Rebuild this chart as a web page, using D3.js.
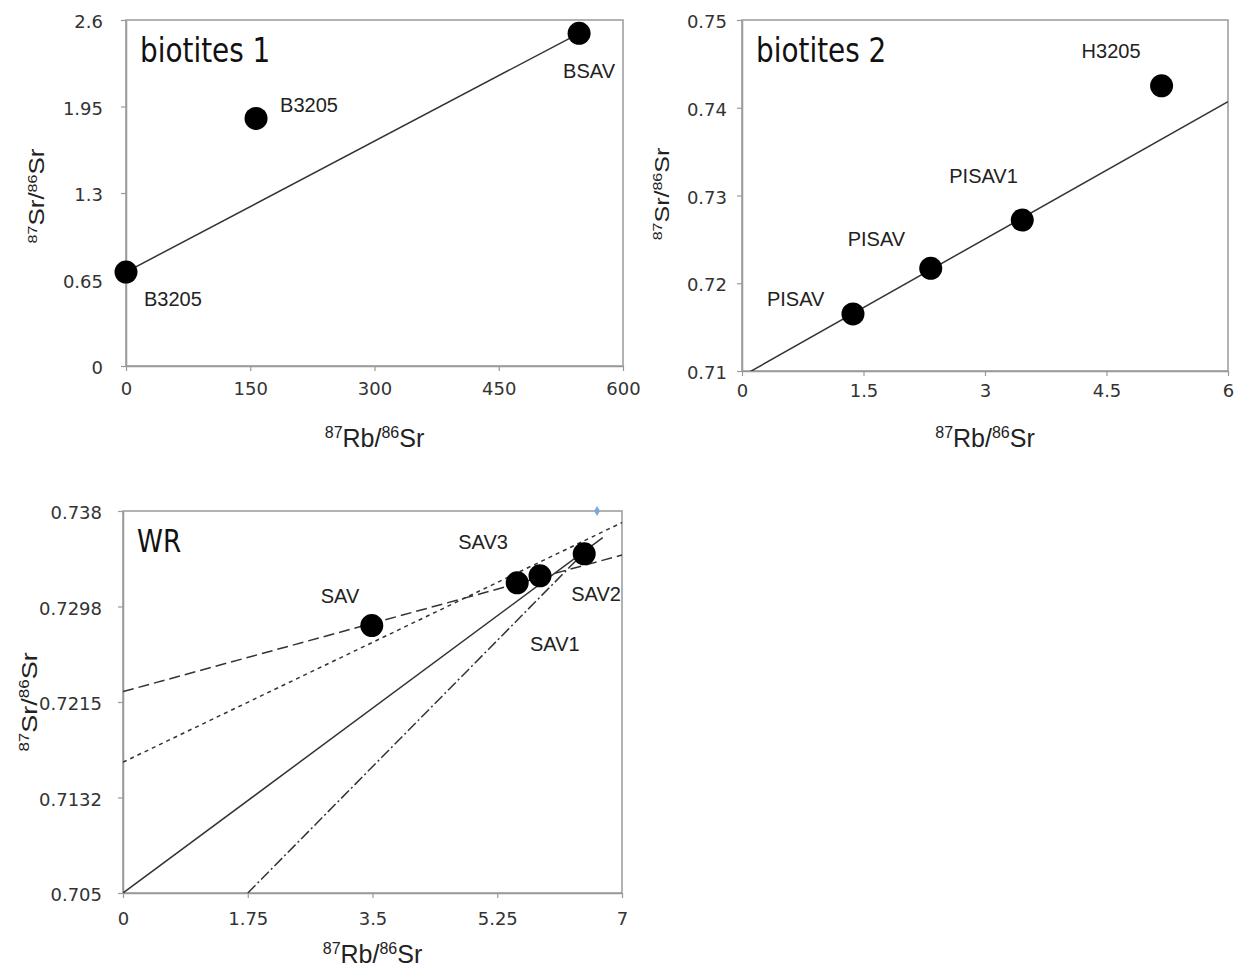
<!DOCTYPE html>
<html>
<head>
<meta charset="utf-8">
<script src="https://cdn.jsdelivr.net/npm/d3@7"></script>
<style>
  body { margin: 0; background: #fff; }
</style>
</head>
<body>
<div id="chart"></div>
<script>
// biotites 1
var bio1X = [0, 157, 547];
var bio1Y = [0.706, 1.86, 2.50];
var bio1Names = ["B3205", "B3205", "BSAV"];
var bio1XTicks = [0, 150, 300, 450, 600];
var bio1YTicks = [0, 0.65, 1.3, 1.95, 2.6];
var bio1Fit = [[0, 0.706], [547, 2.50]];

// biotites 2
var bio2X = [1.37, 2.33, 3.46, 5.18];
var bio2Y = [0.7165, 0.7217, 0.7272, 0.7425];
var bio2Names = ["PISAV", "PISAV", "PISAV1", "H3205"];
var bio2XTicks = [0, 1.5, 3, 4.5, 6];
var bio2YTicks = [0.71, 0.72, 0.73, 0.74, 0.75];
var bio2Fit = [[0, 0.7094], [6, 0.7407]];

// whole rock
var wrX = [3.49, 5.53, 5.85, 6.47];
var wrY = [0.7281, 0.7318, 0.7324, 0.7343];
var wrNames = ["SAV", "SAV3", "SAV1", "SAV2"];
var wrXTicks = [0, 1.75, 3.5, 5.25, 7];
var wrYTicks = [0.705, 0.71325, 0.7215, 0.72975, 0.738];
var wrYTickLabels = ["0.705", "0.7132", "0.7215", "0.7298", "0.738"];
var wrSolid = [[0, 0.705], [6.73, 0.7357]];
var wrDashDot = [[1.75, 0.705], [6.45, 0.7343]];
var wrShortDash = [[0, 0.7163], [7, 0.737]];
var wrLongDash = [[0, 0.7224], [7, 0.7342]];
var wrExtra = [[6.65, 0.738]];

var svg = d3.select("#chart").append("svg")
  .attr("width", 1239)
  .attr("height", 969);

var panels = [
  {
    id: "p1", title: "biotites 1", left: 126, top: 20, width: 497, height: 346,
    xDomain: [0, 600], yDomain: [0, 2.6], xTicks: bio1XTicks, yTicks: bio1YTicks,
    yTickLabels: bio1YTicks.map(String), xs: bio1X, ys: bio1Y, names: bio1Names,
    labelOffsets: [[18, 34], [24, -6], [-16, 45]],
    lines: [{ pts: bio1Fit, dash: null }],
    xPad: 11, yPad: 18, xTitleY: 447, yTitleX: 44, yTitleY: 196, titleY: 62, titleSize: 34, yTitleSize: 26
  },
  {
    id: "p2", title: "biotites 2", left: 742, top: 20, width: 486, height: 351,
    xDomain: [0, 6], yDomain: [0.71, 0.75], xTicks: bio2XTicks, yTicks: bio2YTicks,
    yTickLabels: bio2YTicks.map(String), xs: bio2X, ys: bio2Y, names: bio2Names,
    labelOffsets: [[-86, -8], [-83, -22], [-73, -37], [-80, -28]],
    lines: [{ pts: bio2Fit, dash: null }],
    xPad: 8, yPad: 10, xTitleY: 447, yTitleX: 669, yTitleY: 194, titleY: 62, titleSize: 34, yTitleSize: 25
  },
  {
    id: "p3", title: "WR", left: 123, top: 511, width: 499, height: 382,
    xDomain: [0, 7], yDomain: [0.705, 0.738], xTicks: wrXTicks, yTicks: wrYTicks,
    yTickLabels: wrYTickLabels, xs: wrX, ys: wrY, names: wrNames,
    labelOffsets: [[-51, -23], [-59, -34], [-10, 75], [-13, 47]],
    lines: [
      { pts: wrSolid, dash: null },
      { pts: wrDashDot, dash: "11,3,2,3" },
      { pts: wrShortDash, dash: "4,4" },
      { pts: wrLongDash, dash: "11,5" }
    ],
    extra: wrExtra,
    xPad: 14, yPad: 16, xTitleY: 963, yTitleX: 37, yTitleY: 702, titleY: 552, titleSize: 32, yTitleSize: 27
  }
];

panels.forEach(function (p) {
  var x = d3.scaleLinear().domain(p.xDomain).range([0, p.width]);
  var y = d3.scaleLinear().domain(p.yDomain).range([p.height, 0]);

  var g = svg.append("g")
    .attr("transform", "translate(" + p.left + "," + p.top + ")");

  // clip so the fit lines stay in the plot box
  g.append("clipPath").attr("id", "clip-" + p.id)
    .append("rect").attr("width", p.width).attr("height", p.height);

  // x axis
  var xAxis = g.append("g")
    .attr("transform", "translate(0," + p.height + ")")
    .call(d3.axisBottom(x).tickValues(p.xTicks).tickSize(5).tickSizeOuter(0).tickPadding(p.xPad)
      .tickFormat(function (d) { return String(d); }));
  // y axis
  var yAxis = g.append("g")
    .call(d3.axisLeft(y).tickValues(p.yTicks).tickSize(5).tickSizeOuter(0).tickPadding(p.yPad)
      .tickFormat(function (d, i) { return p.yTickLabels[i]; }));

  [xAxis, yAxis].forEach(function (a) {
    a.select(".domain").attr("stroke", "#999").attr("stroke-width", 1.5);
    a.selectAll(".tick line").attr("stroke", "#999").attr("stroke-width", 1.2);
    a.selectAll(".tick text")
      .attr("fill", "#333")
      .style("font-family", "'DejaVu Sans', Verdana, sans-serif")
      .style("font-size", "18px");
  });
  yAxis.selectAll(".tick text").attr("dy", "0.42em");

  // box around the plot
  g.append("rect")
    .attr("width", p.width)
    .attr("height", p.height)
    .attr("fill", "none")
    .attr("stroke", "#999")
    .attr("stroke-width", 1.5);

  // fit lines
  var line = d3.line()
    .x(function (d) { return x(d[0]); })
    .y(function (d) { return y(d[1]); });
  var lg = g.append("g").attr("clip-path", "url(#clip-" + p.id + ")");
  p.lines.forEach(function (l) {
    lg.append("path")
      .datum(l.pts)
      .attr("d", line)
      .attr("fill", "none")
      .attr("stroke", "#333")
      .attr("stroke-width", 1.5)
      .attr("stroke-dasharray", l.dash);
  });

  // points
  g.selectAll("circle.pt")
    .data(p.xs)
    .enter().append("circle")
    .attr("class", "pt")
    .attr("cx", function (d) { return x(d); })
    .attr("cy", function (d, i) { return y(p.ys[i]); })
    .attr("r", 11.5)
    .attr("fill", "#000");

  // point labels
  g.selectAll("text.lbl")
    .data(p.names)
    .enter().append("text")
    .attr("class", "lbl")
    .attr("x", function (d, i) { return x(p.xs[i]) + p.labelOffsets[i][0]; })
    .attr("y", function (d, i) { return y(p.ys[i]) + p.labelOffsets[i][1]; })
    .style("font-family", "'Liberation Sans', Arial, sans-serif")
    .style("font-size", "20px")
    .attr("fill", "#222")
    .text(function (d) { return d; });

  if (p.extra) {
    g.selectAll("path.extra")
      .data(p.extra)
      .enter().append("path")
      .attr("class", "extra")
      .attr("transform", function (d) { return "translate(" + x(d[0]) + "," + y(d[1]) + ")"; })
      .attr("d", d3.symbol().type(d3.symbolDiamond).size(30))
      .attr("fill", "#7aa9dd");
  }

  // panel title, squeezed a bit like the original
  svg.append("g")
    .attr("transform", "translate(" + (p.left + 14) + "," + p.titleY + ") scale(0.82,1)")
    .append("text")
    .style("font-family", "'DejaVu Sans', Verdana, sans-serif")
    .style("font-size", p.titleSize + "px")
    .attr("fill", "#111")
    .text(p.title);

  // x title
  var xt = svg.append("text")
    .attr("x", p.left + p.width / 2)
    .attr("y", p.xTitleY)
    .attr("text-anchor", "middle")
    .style("font-family", "'Liberation Sans', Arial, sans-serif")
    .attr("fill", "#222");
  addIsoText(xt, "87", "Rb/", "86", "Sr", 25);

  // y title
  var yt = svg.append("g")
    .attr("transform", "translate(" + p.yTitleX + "," + p.yTitleY + ") rotate(-90) scale(1,0.82)")
    .append("text")
    .attr("text-anchor", "middle")
    .style("font-family", "'Liberation Sans', Arial, sans-serif")
    .attr("fill", "#222");
  addIsoText(yt, "87", "Sr/", "86", "Sr", p.yTitleSize);
});

function addIsoText(sel, sup1, main1, sup2, main2, size) {
  var supSize = Math.round(size * 0.62);
  var rise = Math.round(size * 0.36);
  sel.append("tspan").style("font-size", supSize + "px").attr("dy", -rise).text(sup1);
  sel.append("tspan").style("font-size", size + "px").attr("dy", rise).text(main1);
  sel.append("tspan").style("font-size", supSize + "px").attr("dy", -rise).text(sup2);
  sel.append("tspan").style("font-size", size + "px").attr("dy", rise).text(main2);
}
</script>
</body>
</html>
